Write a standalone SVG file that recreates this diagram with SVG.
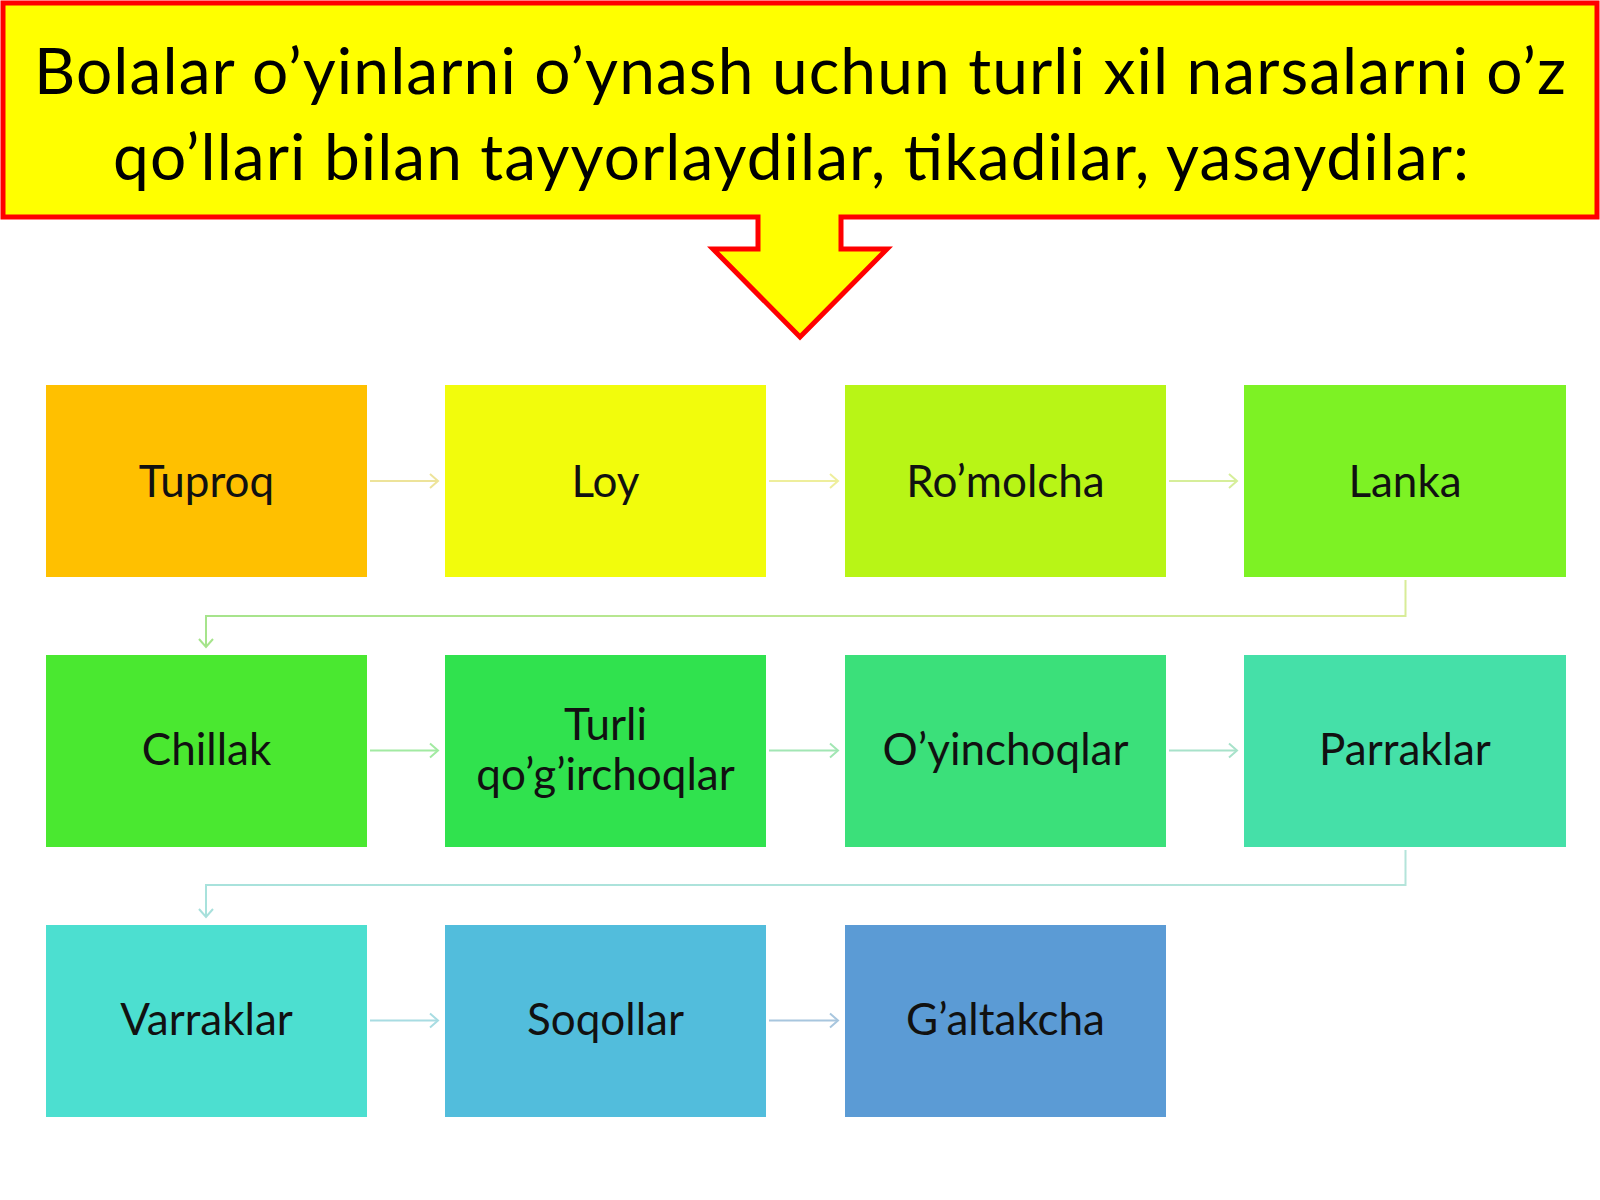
<svg xmlns="http://www.w3.org/2000/svg" width="1600" height="1200" viewBox="0 0 1600 1200">
<style>
.node-text{font-family:Lato,"Liberation Sans",sans-serif;font-size:44px;fill:#111;text-anchor:middle}
.title-text{font-family:Lato,"Liberation Sans",sans-serif;font-size:64px;fill:#000;text-anchor:middle}
.conn{fill:none;stroke-width:2}
</style>
<defs>
<linearGradient id="g1" gradientUnits="userSpaceOnUse" x1="1406" y1="0" x2="206" y2="0"><stop offset="0" stop-color="#D8EC98"/><stop offset="1" stop-color="#A6E48C"/></linearGradient>
<linearGradient id="g2" gradientUnits="userSpaceOnUse" x1="1406" y1="0" x2="206" y2="0"><stop offset="0" stop-color="#B4E4DA"/><stop offset="1" stop-color="#A8E2DC"/></linearGradient>
<marker id="m1" markerUnits="userSpaceOnUse" markerWidth="12" markerHeight="18" refX="10" refY="9" orient="auto"><path d="M2,2 L10,9 L2,16" fill="none" stroke="#EDE39A" stroke-width="2"/></marker>
<marker id="m2" markerUnits="userSpaceOnUse" markerWidth="12" markerHeight="18" refX="10" refY="9" orient="auto"><path d="M2,2 L10,9 L2,16" fill="none" stroke="#EEEE9C" stroke-width="2"/></marker>
<marker id="m3" markerUnits="userSpaceOnUse" markerWidth="12" markerHeight="18" refX="10" refY="9" orient="auto"><path d="M2,2 L10,9 L2,16" fill="none" stroke="#D6EE9A" stroke-width="2"/></marker>
<marker id="m4" markerUnits="userSpaceOnUse" markerWidth="12" markerHeight="18" refX="10" refY="9" orient="auto"><path d="M2,2 L10,9 L2,16" fill="none" stroke="#A6E48C" stroke-width="2"/></marker>
<marker id="m5" markerUnits="userSpaceOnUse" markerWidth="12" markerHeight="18" refX="10" refY="9" orient="auto"><path d="M2,2 L10,9 L2,16" fill="none" stroke="#A2EAA2" stroke-width="2"/></marker>
<marker id="m6" markerUnits="userSpaceOnUse" markerWidth="12" markerHeight="18" refX="10" refY="9" orient="auto"><path d="M2,2 L10,9 L2,16" fill="none" stroke="#A2E6B4" stroke-width="2"/></marker>
<marker id="m7" markerUnits="userSpaceOnUse" markerWidth="12" markerHeight="18" refX="10" refY="9" orient="auto"><path d="M2,2 L10,9 L2,16" fill="none" stroke="#A8E2CA" stroke-width="2"/></marker>
<marker id="m8" markerUnits="userSpaceOnUse" markerWidth="12" markerHeight="18" refX="10" refY="9" orient="auto"><path d="M2,2 L10,9 L2,16" fill="none" stroke="#A8E0DC" stroke-width="2"/></marker>
<marker id="m9" markerUnits="userSpaceOnUse" markerWidth="12" markerHeight="18" refX="10" refY="9" orient="auto"><path d="M2,2 L10,9 L2,16" fill="none" stroke="#A8DCE2" stroke-width="2"/></marker>
<marker id="m10" markerUnits="userSpaceOnUse" markerWidth="12" markerHeight="18" refX="10" refY="9" orient="auto"><path d="M2,2 L10,9 L2,16" fill="none" stroke="#A8C6DE" stroke-width="2"/></marker>
</defs>
<rect width="1600" height="1200" fill="#FFFFFF"/>

<g id="title">
<path d="M3,3 H1597 V217 H841 V249 H887 L800,337 L713,249 H758 V217 H3 Z" fill="#FFFF00" stroke="#FF0000" stroke-width="5" stroke-linejoin="miter"/>
<text class="title-text" x="800" y="94" textLength="1532" lengthAdjust="spacing">Bolalar o’yinlarni o’ynash uchun turli xil narsalarni o’z</text>
<text class="title-text" x="791" y="180" textLength="1356" lengthAdjust="spacing">qo’llari bilan tayyorlaydilar, tikadilar, yasaydilar:</text>
</g>

<g id="connectors">
<path class="conn" d="M370,481 H438" stroke="#EDE39A" marker-end="url(#m1)"/>
<path class="conn" d="M769,481 H838" stroke="#EEEE9C" marker-end="url(#m2)"/>
<path class="conn" d="M1169,481 H1237" stroke="#D6EE9A" marker-end="url(#m3)"/>
<path class="conn" d="M1405.5,580 V616 H206 V647" stroke="url(#g1)" marker-end="url(#m4)"/>
<path class="conn" d="M370,750.5 H438" stroke="#A2EAA2" marker-end="url(#m5)"/>
<path class="conn" d="M769,750.5 H838" stroke="#A2E6B4" marker-end="url(#m6)"/>
<path class="conn" d="M1169,750.5 H1237" stroke="#A8E2CA" marker-end="url(#m7)"/>
<path class="conn" d="M1405.5,850 V885 H206 V917" stroke="url(#g2)" marker-end="url(#m8)"/>
<path class="conn" d="M370,1020.5 H438" stroke="#A8DCE2" marker-end="url(#m9)"/>
<path class="conn" d="M769,1020.5 H838" stroke="#A8C6DE" marker-end="url(#m10)"/>
</g>

<g id="node-tuproq"><rect x="46" y="385" width="321" height="192" fill="#FFC000"/><text class="node-text" x="206.5" y="497">Tuproq</text></g>
<g id="node-loy"><rect x="445" y="385" width="321" height="192" fill="#F2FC0C"/><text class="node-text" x="605.5" y="497">Loy</text></g>
<g id="node-romolcha"><rect x="845" y="385" width="321" height="192" fill="#B8F516"/><text class="node-text" x="1005.5" y="497">Ro’molcha</text></g>
<g id="node-lanka"><rect x="1244" y="385" width="322" height="192" fill="#7DF224"/><text class="node-text" x="1405" y="497">Lanka</text></g>

<g id="node-chillak"><rect x="46" y="655" width="321" height="192" fill="#4AE830"/><text class="node-text" x="206.5" y="765">Chillak</text></g>
<g id="node-turli"><rect x="445" y="655" width="321" height="192" fill="#30E24E"/><text class="node-text" x="605.5" y="740">Turli</text><text class="node-text" x="605.5" y="790">qo’g’irchoqlar</text></g>
<g id="node-oyinchoqlar"><rect x="845" y="655" width="321" height="192" fill="#3BE07A"/><text class="node-text" x="1005.5" y="765">O’yinchoqlar</text></g>
<g id="node-parraklar"><rect x="1244" y="655" width="322" height="192" fill="#45E0A8"/><text class="node-text" x="1405" y="765">Parraklar</text></g>

<g id="node-varraklar"><rect x="46" y="925" width="321" height="192" fill="#4CDFD0"/><text class="node-text" x="206.5" y="1035">Varraklar</text></g>
<g id="node-soqollar"><rect x="445" y="925" width="321" height="192" fill="#52BDDC"/><text class="node-text" x="605.5" y="1035">Soqollar</text></g>
<g id="node-galtakcha"><rect x="845" y="925" width="321" height="192" fill="#5B9BD5"/><text class="node-text" x="1005.5" y="1035">G’altakcha</text></g>
</svg>
